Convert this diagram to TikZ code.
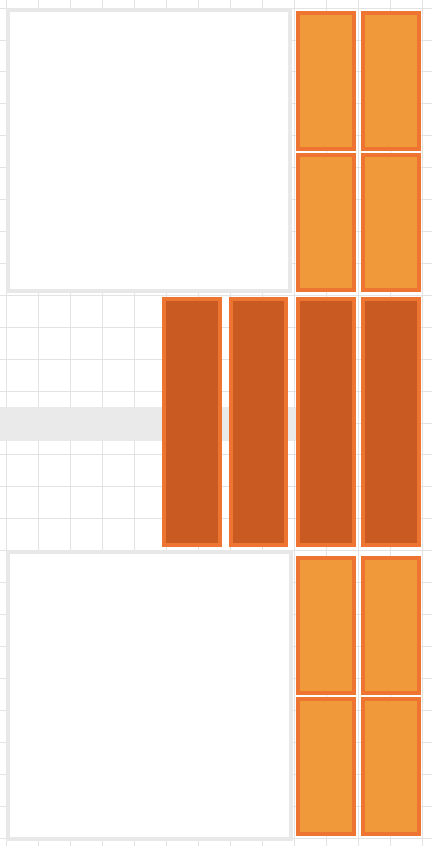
\documentclass[tikz,border=0pt]{standalone}
\definecolor{gridc}{HTML}{E3E3E3}
\definecolor{boxb}{HTML}{E8E8E8}
\definecolor{bandc}{HTML}{EAEAEA}
\definecolor{ofill}{HTML}{F0993A}
\definecolor{oline}{HTML}{EE7431}
\definecolor{dfill}{HTML}{C95A22}
\begin{document}
\begin{tikzpicture}[x=1pt,y=-1pt,
 obox/.style={draw=oline,fill=ofill,line width=4pt,inner sep=0pt,minimum width=56pt},
 dbox/.style={draw=oline,fill=dfill,line width=4pt,inner sep=0pt,minimum width=56pt},
 framebox/.style={draw=boxb,fill=white,line width=4pt,inner sep=0pt},
 gridline/.style={draw=gridc,line width=1pt}]
\useasboundingbox (0,0) rectangle (432,846);
\fill[white] (0,0) rectangle (432,846);
\foreach \i in {0,...,13} \draw[gridline] ({6.7+32*\i},0) -- ({6.7+32*\i},846);
\foreach \j in {0,...,26} \draw[gridline] (0,{8.1+31.92*\j}) -- (432,{8.1+31.92*\j});
\fill[bandc] (0,406.7) rectangle (296,440.7);
\node[framebox,minimum width=282pt,minimum height=281pt] (topframe) at (149,150.8) {};
\node[framebox,minimum width=283pt,minimum height=286.7pt] (botframe) at (149,695.6) {};
% top orange
\node[obox,minimum height=136pt] (c1) at (326,81) {};
\node[obox,minimum height=136pt] (d1) at (391,81) {};
\node[obox,minimum height=134.7pt] (c2) at (326,222.35) {};
\node[obox,minimum height=134.7pt] (d2) at (391,222.35) {};
% middle dark
\node[dbox,minimum height=246pt] (ma) at (192,421.7) {};
\node[dbox,minimum height=246pt,minimum width=55pt] (mb) at (258.5,421.7) {};
\node[dbox,minimum height=246pt] (mc) at (326,421.7) {};
\node[dbox,minimum height=246pt] (md) at (391,421.7) {};
% bottom orange
\node[obox,minimum height=135.3pt] (c3) at (326,625.35) {};
\node[obox,minimum height=135.3pt] (d3) at (391,625.35) {};
\node[obox,minimum height=135.3pt] (c4) at (326,766.35) {};
\node[obox,minimum height=135.3pt] (d4) at (391,766.35) {};
\end{tikzpicture}
\end{document}
